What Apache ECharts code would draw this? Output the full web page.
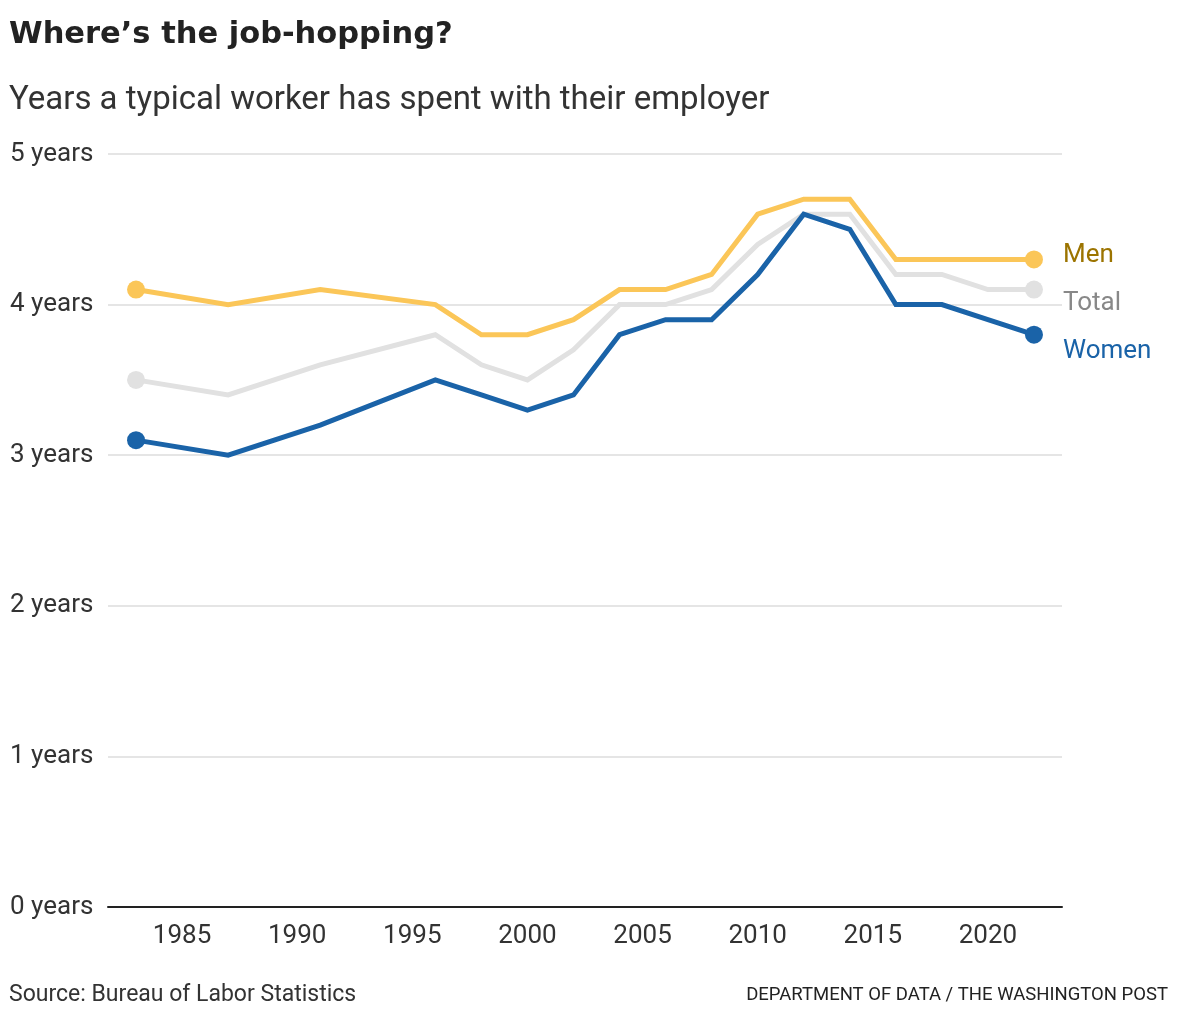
<!DOCTYPE html>
<html>
<head>
<meta charset="utf-8">
<script src="https://cdn.jsdelivr.net/npm/echarts@6/dist/echarts.min.js"></script>
<style>
html,body{margin:0;padding:0;background:#fff;}
#chart{width:1180px;height:1020px;}
</style>
</head>
<body>
<div id="chart"></div>
<script>
// Survey years
var years = [1983, 1987, 1991, 1996, 1998, 2000, 2002, 2004, 2006, 2008, 2010, 2012, 2014, 2016, 2018, 2020, 2022];
// Median tenure (years)
var totalValues = [3.5, 3.4, 3.6, 3.8, 3.6, 3.5, 3.7, 4.0, 4.0, 4.1, 4.4, 4.6, 4.6, 4.2, 4.2, 4.1, 4.1];
var menValues   = [4.1, 4.0, 4.1, 4.0, 3.8, 3.8, 3.9, 4.1, 4.1, 4.2, 4.6, 4.7, 4.7, 4.3, 4.3, 4.3, 4.3];
var womenValues = [3.1, 3.0, 3.2, 3.5, 3.4, 3.3, 3.4, 3.8, 3.9, 3.9, 4.2, 4.6, 4.5, 4.0, 4.0, 3.9, 3.8];
var xTickLabels = [1985, 1990, 1995, 2000, 2005, 2010, 2015, 2020];
var yTicks = [0, 1, 2, 3, 4, 5];

var FONT = 'Roboto, "Liberation Sans", sans-serif';
var TITLE_FONT = '"DejaVu Sans", Roboto, sans-serif';

function buildData(vals, name, labelColor, dy) {
  return vals.map(function (v, i) {
    var item = { value: [years[i], v] };
    if (i === vals.length - 1) {
      item.label = {
        show: true,
        formatter: name,
        position: 'right',
        distance: 20,
        offset: [0, dy],
        color: labelColor,
        fontSize: 26,
        fontFamily: FONT
      };
    }
    return item;
  });
}

function mkSeries(name, vals, color, labelColor, dy) {
  var last = vals.length - 1;
  return {
    name: name,
    type: 'line',
    data: buildData(vals, name, labelColor, dy),
    symbol: 'circle',
    showAllSymbol: true,
    symbolSize: function (val, params) {
      return (params.dataIndex === 0 || params.dataIndex === last) ? 18 : 0;
    },
    lineStyle: { color: color, width: 5, join: 'miter' },
    itemStyle: { color: color },
    emphasis: { disabled: true },
    silent: true,
    z: 2
  };
}

var chart = echarts.init(document.getElementById('chart'), null, { renderer: 'canvas' });
chart.setOption({
  animation: false,
  backgroundColor: '#fff',
  textStyle: { fontFamily: FONT },
  title: [
    {
      text: 'Where\u2019s the job-hopping?',
      left: 9, top: 20, padding: 0,
      textStyle: { fontSize: 30.5, fontWeight: 'bold', color: '#222', fontFamily: TITLE_FONT }
    },
    {
      text: 'Years a typical worker has spent with their employer',
      left: 9, top: 84, padding: 0,
      textStyle: { fontSize: 33, fontWeight: 'normal', color: '#333', fontFamily: FONT }
    },
    {
      text: 'Source: Bureau of Labor Statistics',
      left: 9, top: 984, padding: 0,
      textStyle: { fontSize: 23, fontWeight: 'normal', color: '#333', fontFamily: FONT }
    },
    {
      text: 'DEPARTMENT OF DATA / THE WASHINGTON POST',
      right: 12, top: 986, padding: 0,
      textStyle: { fontSize: 18.5, fontWeight: 'normal', color: '#222', fontFamily: FONT }
    }
  ],
  grid: { left: 108, right: 118, top: 154, bottom: 113, containLabel: false },
  xAxis: {
    type: 'value',
    min: 1983 - 28 / 23,
    max: 2022 + 28 / 23,
    axisLine: { show: true, lineStyle: { color: '#222', width: 2 } },
    axisTick: { show: false },
    splitLine: { show: false },
    axisLabel: {
      customValues: xTickLabels,
      margin: 16,
      fontSize: 26,
      color: '#333',
      fontFamily: FONT,
      formatter: function (v) { return String(v); }
    }
  },
  yAxis: {
    type: 'value',
    min: 0, max: 5, interval: 1,
    axisLine: { show: false },
    axisTick: { show: false },
    splitLine: { show: true, lineStyle: { color: '#dcdcdc', width: 1.5 } },
    axisLabel: {
      customValues: yTicks,
      align: 'left',
      margin: 98,
      fontSize: 26,
      color: '#333',
      fontFamily: FONT,
      formatter: function (v) { return v + ' years'; }
    }
  },
  series: [
    mkSeries('Total', totalValues, '#e1e1e1', '#888888', 14),
    mkSeries('Men', menValues, '#fbc658', '#9c7400', -4),
    mkSeries('Women', womenValues, '#1a63a8', '#1a63a8', 17)
  ]
});
</script>
</body>
</html>
